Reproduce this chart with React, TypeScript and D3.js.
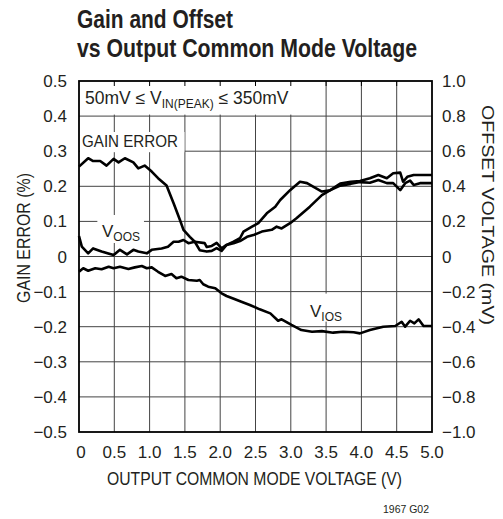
import React from 'react';
import * as d3 from 'd3';

// x axis: output common mode voltage (V)
const xTicks = [0, 0.5, 1.0, 1.5, 2.0, 2.5, 3.0, 3.5, 4.0, 4.5, 5.0];
const leftTicks = [-0.5, -0.4, -0.3, -0.2, -0.1, 0, 0.1, 0.2, 0.3, 0.4, 0.5];
const rightTicks = [-1.0, -0.8, -0.6, -0.4, -0.2, 0, 0.2, 0.4, 0.6, 0.8, 1.0];

// gain error (%), left axis
const gainV = [0, 0.13, 0.2, 0.3, 0.39, 0.49, 0.56, 0.65, 0.77, 0.84, 0.93, 1.03, 1.12, 1.24, 1.34, 1.43, 1.48, 1.57, 1.64, 1.71, 1.81, 1.88, 1.95, 2.02, 2.09, 2.19, 2.28, 2.33, 2.45, 2.54, 2.66, 2.78, 2.85, 2.99, 3.13, 3.23, 3.44, 3.56, 3.7, 3.85, 3.98, 4.12, 4.24, 4.36, 4.45, 4.55, 4.62, 4.69, 4.74, 4.83, 5.0];
const gainPct = [0.256, 0.28, 0.272, 0.272, 0.259, 0.278, 0.268, 0.28, 0.268, 0.251, 0.259, 0.242, 0.223, 0.202, 0.152, 0.104, 0.076, 0.056, 0.042, 0.018, 0.014, 0.016, 0.024, 0.016, 0.033, 0.042, 0.052, 0.071, 0.085, 0.095, 0.123, 0.142, 0.161, 0.189, 0.213, 0.209, 0.185, 0.189, 0.202, 0.207, 0.212, 0.21, 0.218, 0.209, 0.209, 0.189, 0.209, 0.216, 0.204, 0.209, 0.209];

// output offset voltage V_OOS (mV), right axis
const voosV = [0, 0.04, 0.13, 0.2, 0.32, 0.49, 0.58, 0.68, 0.77, 0.84, 0.96, 1.03, 1.17, 1.26, 1.34, 1.41, 1.48, 1.55, 1.64, 1.78, 1.81, 1.88, 1.95, 2.02, 2.09, 2.19, 2.28, 2.38, 2.47, 2.59, 2.73, 2.8, 2.87, 2.99, 3.08, 3.27, 3.44, 3.56, 3.7, 3.85, 3.98, 4.12, 4.24, 4.36, 4.45, 4.55, 4.59, 4.65, 4.74, 4.83, 5.0];
const voosMv = [0.116, 0.056, 0.018, 0.046, 0.028, 0.008, 0.038, 0.012, 0.038, 0.028, 0.018, 0.038, 0.046, 0.056, 0.084, 0.084, 0.094, 0.076, 0.084, 0.076, 0.054, 0.06, 0.078, 0.046, 0.066, 0.076, 0.088, 0.112, 0.122, 0.142, 0.152, 0.17, 0.16, 0.19, 0.218, 0.284, 0.35, 0.378, 0.416, 0.426, 0.43, 0.446, 0.464, 0.446, 0.474, 0.478, 0.426, 0.454, 0.464, 0.464, 0.464];

// input offset voltage V_IOS (mV), right axis
const viosV = [0, 0.06, 0.13, 0.23, 0.32, 0.42, 0.49, 0.58, 0.7, 0.79, 0.89, 0.96, 1.03, 1.12, 1.22, 1.31, 1.38, 1.45, 1.55, 1.67, 1.71, 1.76, 1.83, 1.93, 2.02, 2.09, 2.21, 2.3, 2.42, 2.56, 2.71, 2.82, 2.87, 3.01, 3.15, 3.3, 3.44, 3.6, 3.74, 3.89, 3.98, 4.12, 4.31, 4.48, 4.57, 4.62, 4.69, 4.75, 4.81, 4.88, 5.0];
const viosMv = [-0.087, -0.067, -0.081, -0.067, -0.073, -0.058, -0.067, -0.058, -0.071, -0.062, -0.054, -0.067, -0.062, -0.087, -0.111, -0.1, -0.124, -0.115, -0.134, -0.138, -0.134, -0.158, -0.172, -0.181, -0.21, -0.225, -0.244, -0.258, -0.276, -0.301, -0.324, -0.366, -0.358, -0.39, -0.419, -0.429, -0.425, -0.434, -0.429, -0.432, -0.438, -0.419, -0.4, -0.396, -0.372, -0.4, -0.366, -0.381, -0.358, -0.396, -0.396];

const W = 503;
const H = 519;
const left = 79;
const top = 81;
const pw = 353;
const ph = 351;
const font = '"Liberation Sans", Arial, sans-serif';

const fmt = (v: number, d: number) => {
  if (v === 0) return '0';
  const s = Math.abs(v).toFixed(d);
  return v < 0 ? '\u2212' + s : s;
};

export default function App() {
  const x = d3.scaleLinear().domain([0, 5]).range([left, left + pw]);
  const yL = d3.scaleLinear().domain([-0.5, 0.5]).range([top + ph, top]);
  const yR = d3.scaleLinear().domain([-1, 1]).range([top + ph, top]);

  const lineL = d3.line<[number, number]>().x(d => x(d[0])).y(d => yL(d[1]));
  const lineR = d3.line<[number, number]>().x(d => x(d[0])).y(d => yR(d[1]));

  const gainPath = lineL(gainV.map((v, i) => [v, gainPct[i]]));
  const voosPath = lineR(voosV.map((v, i) => [v, voosMv[i]]));
  const viosPath = lineR(viosV.map((v, i) => [v, viosMv[i]]));

  const curve = { fill: 'none', stroke: '#000', strokeWidth: 2.6, strokeLinejoin: 'round' as const };

  return (
    <svg width={W} height={H} style={{ position: 'absolute', left: 0, top: 0, background: '#fff' }} fontFamily={font}>
      <text x={77} y={28} fontSize={25} fontWeight="bold" fill="#231f20" textLength={156} lengthAdjust="spacingAndGlyphs">Gain and Offset</text>
      <text x={77} y={57} fontSize={25} fontWeight="bold" fill="#231f20" textLength={340} lengthAdjust="spacingAndGlyphs">vs Output Common Mode Voltage</text>

      {/* grid */}
      {xTicks.slice(1, -1).map(t => (
        <line key={'gx' + t} x1={x(t)} x2={x(t)} y1={top} y2={top + ph} stroke="#444" strokeWidth={1} />
      ))}
      {leftTicks.slice(1, -1).map(t => (
        <line key={'gy' + t} x1={left} x2={left + pw} y1={yL(t)} y2={yL(t)} stroke="#444" strokeWidth={1} />
      ))}

      {/* label backgrounds hide the grid */}
      <rect x={left + 1} y={top + 1} width={x(3.2) - left} height={yL(0.4) - top - 2.5} fill="#fff" />
      <rect x={left + 1} y={132} width={x(1.48) - left} height={yL(0.3) - 132 + 1} fill="#fff" />
      <rect x={x(0.26)} y={215} width={x(0.92) - x(0.26)} height={28} fill="#fff" />
      <rect x={x(3.3)} y={yL(-0.1) + 2} width={x(3.92) - x(3.3)} height={28} fill="#fff" />

      {/* frame ticks along top */}
      {xTicks.slice(1, -1).map(t => (
        <line key={'tt' + t} x1={x(t)} x2={x(t)} y1={top} y2={top + 5} stroke="#000" strokeWidth={1} />
      ))}

      <path d={viosPath || ''} {...curve} />
      <path d={voosPath || ''} {...curve} />
      <path d={gainPath || ''} {...curve} />

      <rect x={left} y={top} width={pw} height={ph} fill="none" stroke="#000" strokeWidth={1.8} />

      {/* left ticks */}
      {leftTicks.map(t => (
        <text key={'lt' + t} x={67} y={yL(t) + 6} fontSize={17} textAnchor="end" fill="#231f20">{fmt(t, 1)}</text>
      ))}
      {/* right ticks */}
      {rightTicks.map(t => (
        <text key={'rt' + t} x={442} y={yR(t) + 6} fontSize={17} textAnchor="start" fill="#231f20">{fmt(t, 1)}</text>
      ))}
      {/* x ticks */}
      {xTicks.map(t => (
        <text key={'xt' + t} x={x(t) + (t === 0 ? 2 : 0)} y={458} fontSize={17} textAnchor="middle" fill="#231f20">{t === 0 ? '0' : t.toFixed(1)}</text>
      ))}

      <text x={254.5} y={485} fontSize={18} textAnchor="middle" fill="#231f20" textLength={295} lengthAdjust="spacingAndGlyphs">OUTPUT COMMON MODE VOLTAGE (V)</text>
      <text transform="translate(29.5,238) rotate(-90)" fontSize={18} textAnchor="middle" fill="#231f20" textLength={130} lengthAdjust="spacingAndGlyphs">GAIN ERROR (%)</text>
      <text transform="translate(482,215) rotate(90)" fontSize={16.5} textAnchor="middle" fill="#231f20" textLength={220} lengthAdjust="spacingAndGlyphs">OFFSET VOLTAGE (mV)</text>

      <text x={85} y={104} fontSize={17.5} fill="#231f20">
        50mV ≤ V<tspan fontSize={12} dy={4}>IN(PEAK)</tspan><tspan dy={-4}> ≤ 350mV</tspan>
      </text>
      <text x={82} y={147} fontSize={17} fill="#231f20" textLength={96} lengthAdjust="spacingAndGlyphs">GAIN ERROR</text>
      <text x={102} y={237} fontSize={17} fill="#231f20">
        V<tspan fontSize={12} dy={4}>OOS</tspan>
      </text>
      <text x={310} y={317} fontSize={17} fill="#231f20">
        V<tspan fontSize={12} dy={4}>IOS</tspan>
      </text>

      <text x={383} y={513} fontSize={11} fill="#231f20" textLength={46} lengthAdjust="spacingAndGlyphs">1967 G02</text>
    </svg>
  );
}
